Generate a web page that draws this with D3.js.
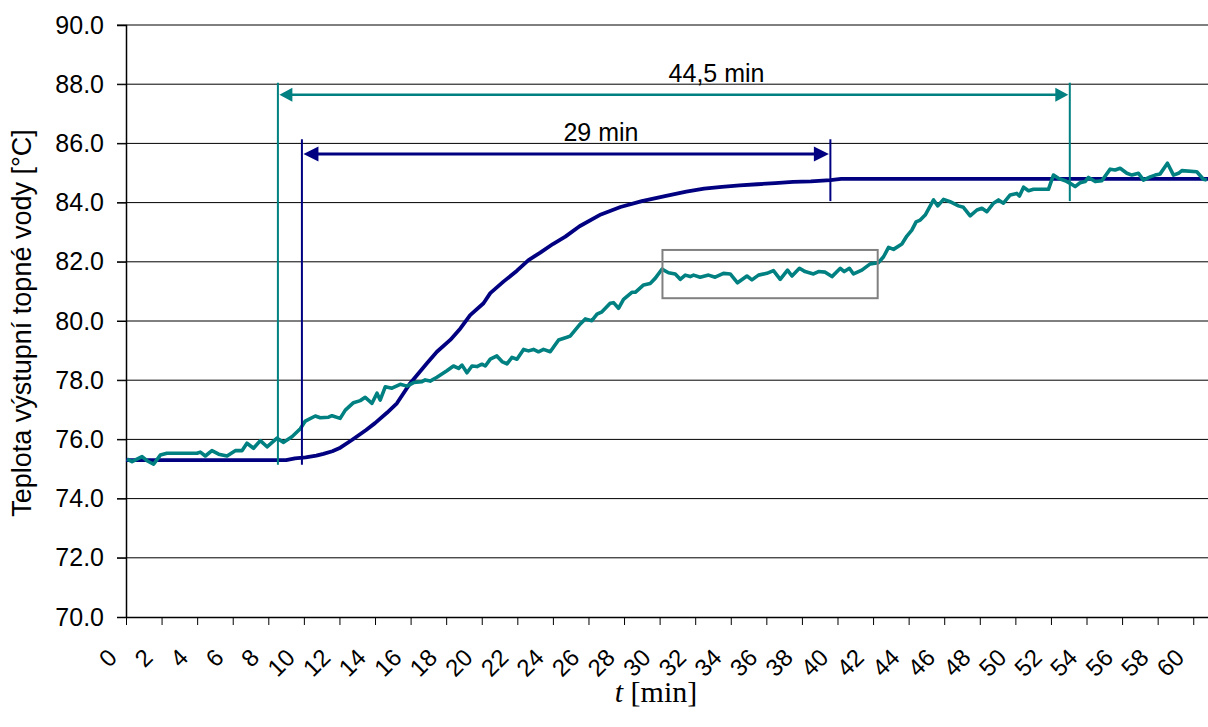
<!DOCTYPE html>
<html>
<head>
<meta charset="utf-8">
<script src="https://cdnjs.cloudflare.com/ajax/libs/d3/7.8.5/d3.min.js"></script>
<style>
  html, body { margin: 0; padding: 0; background: #fff; }
  svg { display: block; }
</style>
</head>
<body>
<svg id="chart" width="1208" height="727"></svg>
<script>
// ---------- DATA ----------
const navyTime = [0, 9.0, 9.5, 10.1, 10.7, 11.1, 11.6, 12.05, 12.7, 13.5, 14.0, 14.67, 15.23, 15.98, 16.92, 17.48, 18.23, 18.8, 19.35, 20.1, 20.48, 21.22, 21.98, 22.63, 23.29, 24.0, 24.7, 25.5, 26.7, 27.8, 29.0, 30.3, 31.5, 32.5, 33.5, 34.5, 35.5, 36.5, 37.5, 38.5, 39.6, 40.2, 60.83];
const navyTemp = [75.3, 75.3, 75.36, 75.39, 75.45, 75.51, 75.6, 75.72, 75.98, 76.32, 76.55, 76.9, 77.22, 77.9, 78.57, 78.96, 79.36, 79.75, 80.2, 80.6, 80.94, 81.33, 81.7, 82.06, 82.31, 82.6, 82.85, 83.2, 83.6, 83.85, 84.05, 84.22, 84.37, 84.47, 84.53, 84.58, 84.62, 84.66, 84.7, 84.72, 84.76, 84.8, 84.8];

const tealTime = [0.06, 0.34, 0.90, 1.18, 1.55, 1.93, 2.30, 3.99, 4.18, 4.46, 4.83, 5.21, 5.68, 6.14, 6.52, 6.80, 7.17, 7.55, 7.93, 8.49, 8.86, 9.33, 9.80, 10.08, 10.64, 10.92, 11.39, 11.58, 12.04, 12.33, 12.79, 13.17, 13.45, 13.83, 14.11, 14.29, 14.58, 14.95, 15.42, 15.80, 16.17, 16.64, 16.82, 17.10, 17.48, 18.04, 18.41, 18.70, 18.89, 19.17, 19.45, 19.73, 20.01, 20.20, 20.48, 20.85, 21.14, 21.42, 21.70, 21.98, 22.35, 22.63, 22.91, 23.19, 23.47, 23.85, 24.32, 24.79, 24.97, 25.54, 25.82, 26.19, 26.48, 26.76, 27.22, 27.41, 27.69, 27.97, 28.44, 28.63, 29.10, 29.47, 29.75, 30.13, 30.50, 30.88, 31.16, 31.44, 31.72, 31.91, 32.28, 32.75, 33.12, 33.59, 33.97, 34.38, 34.91, 35.19, 35.56, 36.03, 36.40, 36.78, 37.19, 37.44, 37.86, 38.18, 38.65, 38.93, 39.31, 39.69, 40.16, 40.38, 40.67, 40.90, 41.37, 41.84, 42.30, 42.59, 42.87, 43.15, 43.62, 43.90, 44.18, 44.42, 44.65, 44.93, 45.40, 45.64, 45.96, 46.33, 46.80, 47.08, 47.46, 47.84, 48.12, 48.40, 48.77, 49.05, 49.33, 49.71, 50.08, 50.23, 50.46, 50.74, 51.02, 51.86, 52.14, 52.42, 52.80, 53.08, 53.36, 53.64, 53.92, 54.11, 54.49, 54.86, 55.33, 55.61, 55.89, 56.27, 56.55, 56.92, 57.20, 57.58, 57.86, 58.14, 58.55, 58.89, 59.17, 59.36, 60.20, 60.57, 60.76];
const tealTemp = [75.33, 75.25, 75.42, 75.28, 75.16, 75.47, 75.53, 75.53, 75.57, 75.44, 75.62, 75.50, 75.44, 75.62, 75.62, 75.87, 75.70, 75.96, 75.75, 76.04, 75.90, 76.09, 76.36, 76.62, 76.79, 76.73, 76.75, 76.80, 76.71, 76.99, 77.24, 77.31, 77.42, 77.22, 77.56, 77.33, 77.78, 77.73, 77.86, 77.80, 77.92, 77.95, 78.01, 77.97, 78.10, 78.32, 78.48, 78.40, 78.51, 78.25, 78.48, 78.46, 78.54, 78.48, 78.71, 78.82, 78.63, 78.55, 78.77, 78.71, 79.04, 78.99, 79.04, 78.96, 79.04, 78.96, 79.36, 79.45, 79.49, 79.90, 80.07, 80.01, 80.23, 80.31, 80.60, 80.62, 80.43, 80.73, 80.97, 80.97, 81.22, 81.27, 81.44, 81.75, 81.63, 81.59, 81.41, 81.55, 81.50, 81.55, 81.48, 81.55, 81.48, 81.61, 81.59, 81.29, 81.52, 81.39, 81.55, 81.61, 81.70, 81.41, 81.72, 81.52, 81.78, 81.67, 81.59, 81.67, 81.65, 81.50, 81.78, 81.67, 81.78, 81.59, 81.72, 81.93, 81.97, 82.17, 82.49, 82.42, 82.60, 82.87, 83.07, 83.35, 83.41, 83.58, 84.09, 83.89, 84.11, 84.03, 83.89, 83.84, 83.55, 83.75, 83.81, 83.69, 83.98, 84.09, 83.98, 84.26, 84.31, 84.22, 84.52, 84.40, 84.45, 84.45, 84.93, 84.82, 84.74, 84.65, 84.54, 84.67, 84.71, 84.85, 84.71, 84.74, 85.13, 85.10, 85.16, 84.99, 84.93, 84.99, 84.76, 84.87, 84.93, 84.97, 85.33, 84.93, 84.99, 85.08, 85.04, 84.79, 84.76];

const yTicks = [70, 72, 74, 76, 78, 80, 82, 84, 86, 88, 90];
const xTicks = [0, 2, 4, 6, 8, 10, 12, 14, 16, 18, 20, 22, 24, 26, 28, 30, 32, 34, 36, 38, 40, 42, 44, 46, 48, 50, 52, 54, 56, 58, 60];

// annotations (minutes / °C)
const tealSpan = [8.54, 53.06], tealSpanLevel = 87.64, tealLabelAt = 33.2, tealSpanLabel = "44,5 min";
const navySpan = [9.89, 39.6], navySpanLevel = 85.64, navyLabelAt = 26.7, navySpanLabel = "29 min";
const spanTopTeal = 88.05, spanTopNavy = 86.14, spanBottomLeft = 75.14, spanBottomRight = 84.05;
const boxTime = [30.16, 42.26], boxTemp = [80.77, 82.40];

const yTitle = "Teplota výstupní topné vody [°C]";

// ---------- LAYOUT ----------
const svg = d3.select("#chart");
const L = 126, R = 1208, T = 25, B = 617;
const x = d3.scaleLinear().domain([0, 60.83]).range([L, R]);
const y = d3.scaleLinear().domain([70, 90]).range([B, T]);
const TEAL = "#008080", NAVY = "#000080";
const SANS = "Arial, 'Liberation Sans', sans-serif";

// gridlines
svg.append("g").selectAll("line").data(yTicks.filter(d => d > 70)).join("line")
  .attr("x1", L - 9).attr("x2", R)
  .attr("y1", d => y(d)).attr("y2", d => y(d))
  .attr("stroke", "#000").attr("stroke-width", 1);

// y axis
const yAxis = svg.append("g").attr("transform", `translate(${L},0)`)
  .call(d3.axisLeft(y).tickValues(yTicks).tickFormat(d3.format(".1f")).tickSize(9).tickPadding(13));
yAxis.select(".domain").attr("stroke", "#000").attr("stroke-width", 1.5);
yAxis.selectAll(".tick line").attr("stroke", "#000");
yAxis.selectAll("text").attr("font-family", SANS).attr("font-size", 25).attr("fill", "#000");

// x axis
const xAxis = svg.append("g").attr("transform", `translate(0,${B})`)
  .call(d3.axisBottom(x).tickValues(xTicks).tickFormat(d3.format("d")).tickSize(8).tickSizeOuter(0));
xAxis.select(".domain").attr("stroke", "#000").attr("stroke-width", 1.5);
xAxis.selectAll(".tick line").attr("stroke", "#000");
xAxis.selectAll("text")
  .attr("font-family", SANS).attr("font-size", 24).attr("fill", "#000")
  .attr("text-anchor", "end").attr("y", 0).attr("dy", 0)
  .attr("transform", "translate(-8,42) rotate(-45)");

// series
const line = d3.line().x(d => x(d[0])).y(d => y(d[1]));
svg.append("path").datum(d3.zip(navyTime, navyTemp))
  .attr("d", line).attr("fill", "none").attr("stroke", NAVY).attr("stroke-width", 3.8).attr("stroke-linejoin", "round");
svg.append("path").datum(d3.zip(tealTime, tealTemp))
  .attr("d", line).attr("fill", "none").attr("stroke", TEAL).attr("stroke-width", 3.6).attr("stroke-linejoin", "round");

// gray box
svg.append("rect")
  .attr("x", x(boxTime[0])).attr("y", y(boxTemp[1]))
  .attr("width", x(boxTime[1]) - x(boxTime[0])).attr("height", y(boxTemp[0]) - y(boxTemp[1]))
  .attr("fill", "none").attr("stroke", "#808080").attr("stroke-width", 2);

// dimension annotations
function dimension(span, level, top, bottomL, bottomR, color, label, labelAt, headLen, headHalf, lw) {
  const [t1, t2] = span;
  const g = svg.append("g");
  g.append("line").attr("x1", x(t1)).attr("x2", x(t1)).attr("y1", y(top)).attr("y2", y(bottomL))
    .attr("stroke", color).attr("stroke-width", 2);
  g.append("line").attr("x1", x(t2)).attr("x2", x(t2)).attr("y1", y(top)).attr("y2", y(bottomR))
    .attr("stroke", color).attr("stroke-width", 2);
  const ax1 = x(t1) + 1.5, ax2 = x(t2) - 1.5, ay = y(level);
  g.append("line").attr("x1", ax1 + headLen - 2).attr("x2", ax2 - headLen + 2).attr("y1", ay).attr("y2", ay)
    .attr("stroke", color).attr("stroke-width", lw);
  g.append("path").attr("d", `M${ax1},${ay} L${ax1 + headLen},${ay - headHalf} L${ax1 + headLen},${ay + headHalf} Z`).attr("fill", color);
  g.append("path").attr("d", `M${ax2},${ay} L${ax2 - headLen},${ay - headHalf} L${ax2 - headLen},${ay + headHalf} Z`).attr("fill", color);
  g.append("text").attr("x", x(labelAt)).attr("y", ay - 13)
    .attr("text-anchor", "middle").attr("font-family", SANS)
    .attr("font-size", 25).attr("fill", "#000").text(label);
}
dimension(tealSpan, tealSpanLevel, spanTopTeal, spanBottomLeft, spanBottomRight, TEAL, tealSpanLabel, tealLabelAt, 13, 7, 2.5);
dimension(navySpan, navySpanLevel, spanTopNavy, spanBottomLeft, spanBottomRight, NAVY, navySpanLabel, navyLabelAt, 15, 7.5, 3);

// axis titles
svg.append("text")
  .attr("transform", `translate(31,${(T + B) / 2 + 2}) rotate(-90)`)
  .attr("text-anchor", "middle")
  .attr("font-family", SANS).attr("font-size", 27).attr("fill", "#000")
  .text(yTitle);

const xt = svg.append("text").attr("x", 656).attr("y", 702).attr("text-anchor", "middle")
  .attr("font-family", "'Times New Roman', 'Liberation Serif', serif").attr("font-size", 30).attr("fill", "#000");
xt.append("tspan").attr("font-style", "italic").text("t");
xt.append("tspan").text(" [min]");
</script>
</body>
</html>
